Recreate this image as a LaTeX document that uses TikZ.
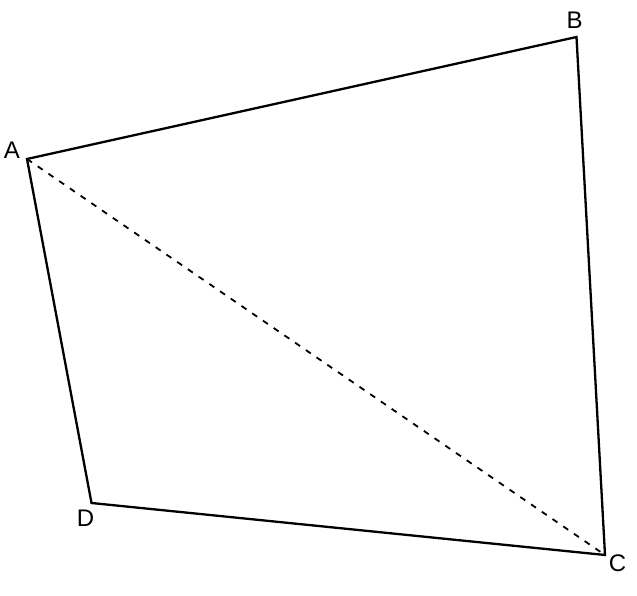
\documentclass[tikz,border=0pt]{standalone}
\usepackage{fontspec}
\setmainfont{Liberation Sans}
\begin{document}
\begin{tikzpicture}[x=1pt,y=1pt,
  edge/.style={line width=2.3pt, line join=miter},
  diag/.style={line width=1.8pt, dash pattern=on 6pt off 7pt},
  lbl/.style={font=\fontsize{24}{26}\selectfont, inner sep=0pt}]
\useasboundingbox (0,0) rectangle (637,596);
\coordinate (A) at (27,437);
\coordinate (B) at (576.5,559);
\coordinate (C) at (605,41);
\coordinate (D) at (91.5,93);
\draw[edge] (A) -- (B) -- (C) -- (D) -- cycle;
\draw[diag] (A) -- (C);
\node[lbl] (la) at (12,446) {A};
\node[lbl] (lb) at (574.5,576) {B};
\node[lbl] (lc) at (617.5,33) {C};
\node[lbl] (ld) at (85.5,78) {D};
\end{tikzpicture}
\end{document}
